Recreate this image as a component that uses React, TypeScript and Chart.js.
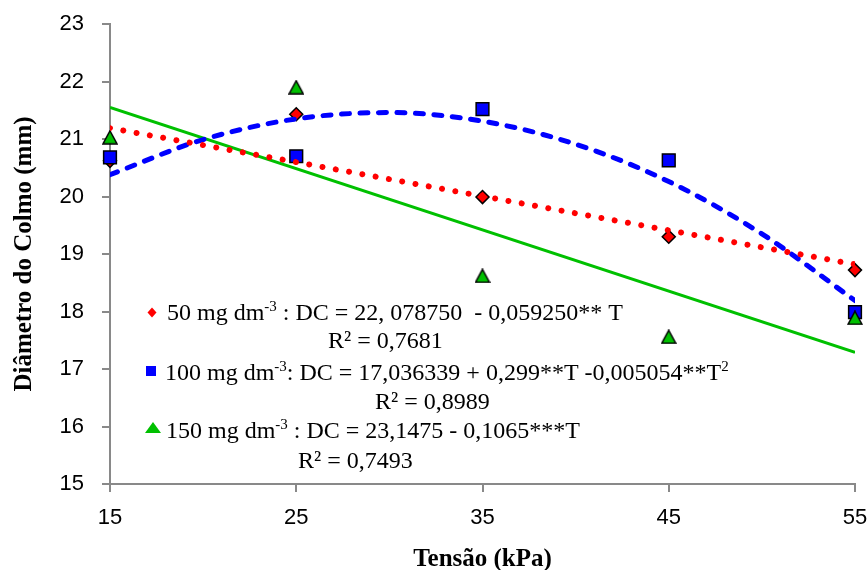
import React, { useEffect, useRef } from 'react';
import { Chart, registerables } from 'chart.js';

Chart.register(...registerables);

// ---- data ----
const tensionKPa = [15, 25, 35, 45, 55];
const dose50 = [20.62, 21.43, 19.99, 19.3, 18.72];
const dose100 = [20.68, 20.7, 21.52, 20.63, 17.99];
const dose150 = [21.03, 21.9, 18.62, 17.56, 17.89];

const trendX50 = [15, 55];
const trend50 = [21.19, 18.82];
const trendX100 = [15, 20, 25, 30, 35, 40, 45, 50, 55];
const trend100 = [20.38, 20.99, 21.35, 21.46, 21.31, 20.91, 20.26, 19.35, 18.19];
const trendX150 = [15, 55];
const trend150 = [21.55, 17.29];

const xTickValues = [15, 25, 35, 45, 55];
const yTickValues = [15, 16, 17, 18, 19, 20, 21, 22, 23];

const xTitle = 'Tensão (kPa)';
const yTitle = 'Diâmetro do Colmo (mm)';

const legend50 = [
  { t: '50 mg dm' }, { t: '-3', sup: true }, { t: ' : DC = 22, 078750  - 0,059250** T' },
];
const r2_50 = 'R² = 0,7681';
const legend100 = [
  { t: '100 mg dm' }, { t: '-3', sup: true }, { t: ': DC = 17,036339 + 0,299**T -0,005054**T' }, { t: '2', sup: true },
];
const r2_100 = 'R² = 0,8989';
const legend150 = [
  { t: '150 mg dm' }, { t: '-3', sup: true }, { t: ' : DC = 23,1475 - 0,1065***T' },
];
const r2_150 = 'R² = 0,7493';

// ---- styles ----
const RED = '#FF0000';
const BLUE = '#0000FF';
const GREEN = '#00C000';
const AXIS = '#898989';
const SERIF = '"Liberation Serif", "Times New Roman", serif';
const SANS = '"Liberation Sans", Arial, sans-serif';

const pts = (xs: number[], ys: number[]) => xs.map((x, i) => ({ x, y: ys[i] }));

function makeTriangle() {
  const c = document.createElement('canvas');
  c.width = 16;
  c.height = 15;
  const g = c.getContext('2d') as CanvasRenderingContext2D;
  g.beginPath();
  g.moveTo(8, 1);
  g.lineTo(15, 14);
  g.lineTo(1, 14);
  g.closePath();
  g.fillStyle = GREEN;
  g.fill();
  g.lineWidth = 1.5;
  g.lineJoin = 'miter';
  g.strokeStyle = '#000';
  g.stroke();
  return c;
}

function drawRich(ctx: CanvasRenderingContext2D, x: number, y: number, segs: { t: string; sup?: boolean }[]) {
  let cx = x;
  for (const s of segs) {
    ctx.font = s.sup ? `15px ${SERIF}` : `24px ${SERIF}`;
    ctx.fillText(s.t, cx, s.sup ? y - 9 : y);
    cx += ctx.measureText(s.t).width;
  }
}

const legendPlugin = {
  id: 'eqLegend',
  afterDraw(chart: any) {
    const ctx: CanvasRenderingContext2D = chart.ctx;
    ctx.save();
    ctx.textAlign = 'left';
    ctx.textBaseline = 'alphabetic';

    ctx.fillStyle = RED;
    ctx.beginPath();
    ctx.moveTo(152, 307.5);
    ctx.lineTo(156.5, 312.5);
    ctx.lineTo(152, 317.5);
    ctx.lineTo(147.5, 312.5);
    ctx.closePath();
    ctx.fill();

    ctx.fillStyle = BLUE;
    ctx.fillRect(146, 366, 10, 10);

    ctx.fillStyle = GREEN;
    ctx.beginPath();
    ctx.moveTo(153, 422);
    ctx.lineTo(161, 433);
    ctx.lineTo(145, 433);
    ctx.closePath();
    ctx.fill();

    ctx.fillStyle = '#000';
    drawRich(ctx, 167, 320, legend50);
    drawRich(ctx, 328, 348, [{ t: r2_50 }]);
    drawRich(ctx, 165, 380, legend100);
    drawRich(ctx, 375, 409, [{ t: r2_100 }]);
    drawRich(ctx, 166, 438, legend150);
    drawRich(ctx, 298, 468, [{ t: r2_150 }]);
    ctx.restore();
  },
};

export default function App() {
  const ref = useRef<HTMLCanvasElement>(null);

  useEffect(() => {
    if (!ref.current) return;
    const tri = makeTriangle();
    const chart = new Chart(ref.current, {
      type: 'scatter',
      data: {
        datasets: [
          {
            type: 'line',
            label: 'trend 50',
            data: pts(trendX50, trend50),
            borderColor: RED,
            borderWidth: 6,
            borderDash: [0.001, 13.5],
            borderCapStyle: 'round',
            pointRadius: 0,
            fill: false,
            order: 0,
          } as any,
          {
            type: 'line',
            label: 'trend 100',
            data: pts(trendX100, trend100),
            borderColor: BLUE,
            borderWidth: 5,
            borderDash: [8, 10.5],
            borderCapStyle: 'round',
            cubicInterpolationMode: 'monotone',
            pointRadius: 0,
            fill: false,
            order: 0,
          } as any,
          {
            type: 'line',
            label: 'trend 150',
            data: pts(trendX150, trend150),
            borderColor: GREEN,
            borderWidth: 3,
            pointRadius: 0,
            fill: false,
            order: 0,
          } as any,
          {
            label: '150 mg dm-3',
            data: pts(tensionKPa, dose150),
            pointStyle: tri,
            pointRadius: 8,
            backgroundColor: GREEN,
            borderColor: '#000',
            clip: false,
            order: 1,
          } as any,
          {
            label: '100 mg dm-3',
            data: pts(tensionKPa, dose100),
            pointStyle: 'rect',
            pointRadius: 9,
            backgroundColor: BLUE,
            borderColor: '#000',
            borderWidth: 1.5,
            clip: false,
            order: 2,
          } as any,
          {
            label: '50 mg dm-3',
            data: pts(tensionKPa, dose50),
            pointStyle: 'rectRot',
            pointRadius: 6.5,
            backgroundColor: RED,
            borderColor: '#000',
            borderWidth: 1.5,
            clip: false,
            order: 3,
          } as any,
        ],
      },
      options: {
        animation: false,
        responsive: false,
        maintainAspectRatio: false,
        layout: { padding: { top: 24, right: 13, left: 0, bottom: 0 } },
        plugins: {
          legend: { display: false },
          tooltip: { enabled: false },
        },
        scales: {
          x: {
            type: 'linear',
            min: 15,
            max: 55,
            afterBuildTicks: (s: any) => {
              s.ticks = xTickValues.map((v) => ({ value: v }));
            },
            afterFit: (s: any) => {
              s.height = 86;
              s.paddingLeft = 0;
              s.paddingRight = 0;
              s.paddingTop = 0;
              s.paddingBottom = 0;
            },
            ticks: {
              color: '#000',
              font: { family: SANS, size: 22 },
              padding: 13,
            },
            grid: {
              drawOnChartArea: false,
              drawTicks: true,
              tickLength: 8,
              color: AXIS,
              lineWidth: 2,
            },
            border: { color: AXIS, width: 2 },
            title: {
              display: true,
              text: xTitle,
              color: '#000',
              font: { family: SERIF, size: 25, weight: 'bold', lineHeight: 0.85 },
              padding: { top: 0, bottom: 0 },
            },
          },
          y: {
            type: 'linear',
            min: 15,
            max: 23,
            afterBuildTicks: (s: any) => {
              s.ticks = yTickValues.map((v) => ({ value: v }));
            },
            afterFit: (s: any) => {
              s.width = 110;
              s.paddingLeft = 0;
              s.paddingRight = 0;
              s.paddingTop = 0;
              s.paddingBottom = 0;
            },
            ticks: {
              color: '#000',
              font: { family: SANS, size: 22 },
              padding: 18,
            },
            grid: {
              drawOnChartArea: false,
              drawTicks: true,
              tickLength: 8,
              color: AXIS,
              lineWidth: 2,
            },
            border: { color: AXIS, width: 2 },
            title: {
              display: true,
              text: yTitle,
              color: '#000',
              font: { family: SERIF, size: 25, weight: 'bold', lineHeight: 1 },
              padding: { top: 12, bottom: 0 },
            },
          },
        },
      } as any,
      plugins: [legendPlugin],
    });
    return () => chart.destroy();
  }, []);

  return (
    <div style={{ position: 'absolute', left: 0, top: 0, width: 868, height: 570, background: '#fff' }}>
      <canvas ref={ref} width={868} height={570} style={{ display: 'block' }} />
    </div>
  );
}
